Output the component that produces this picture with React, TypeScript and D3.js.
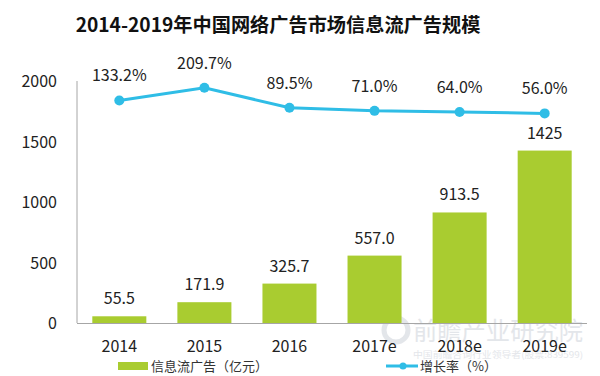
import React from "react";
import * as d3 from "d3";

const categories = ["2014", "2015", "2016", "2017e", "2018e", "2019e"];
const adValues = [55.5, 171.9, 325.7, 557.0, 913.5, 1425];
const adLabels = ["55.5", "171.9", "325.7", "557.0", "913.5", "1425"];
const growthValues = [133.2, 209.7, 89.5, 71.0, 64.0, 56.0];
const yTicks = [0, 500, 1000, 1500, 2000];
const title = "2014-2019年中国网络广告市场信息流广告规模";
const barLegend = "信息流广告（亿元）";
const lineLegend = "增长率（%）";

const W = 600;
const H = 376;
const left = 77;
const right = 587;
const top = 81;
const bottom = 323;
const GREEN = "#a9cc30";
const BLUE = "#2fbde6";
const FONT = "'Noto Sans CJK SC', 'Noto Sans', sans-serif";

export default function App() {
  const x = d3.scaleBand<string>().domain(categories).range([left, right]).paddingInner(0.365).paddingOuter(0.18);
  const y = d3.scaleLinear().domain([0, 2000]).range([bottom, top]);
  const y2 = d3.scaleLinear().domain([-1200, 250]).range([bottom, top]);
  const cx = (c: string) => (x(c) as number) + x.bandwidth() / 2;
  const line = d3
    .line<number>()
    .x((_, i) => cx(categories[i]))
    .y((d) => y2(d));

  return (
    <svg width={W} height={H} style={{ position: "absolute", left: 0, top: 0, background: "#fff" }} fontFamily={FONT}>
      <rect width={W} height={H} fill="#fff" />
      <text x={278} y={32} textAnchor="middle" fontSize={19.2} fontWeight="bold" fill="#111">
        {title}
      </text>

      {/* watermark */}
      <g opacity={0.5}>
        <circle cx={396} cy={330} r={12} fill="none" stroke="#c9ced6" strokeWidth={5} />
        <text x={413} y={340} fontSize={25} fill="#c9ced6" textLength={170} lengthAdjust="spacingAndGlyphs">
          前瞻产业研究院
        </text>
        <text x={413} y={358} fontSize={9} fill="#c9ced6" textLength={170} lengthAdjust="spacingAndGlyphs">
          中国前瞻咨询行业领导者(股票:839599)
        </text>
      </g>

      {/* y axis */}
      <line x1={left} x2={left} y1={top} y2={bottom} stroke="#a6a6a6" strokeWidth={1} />
      {yTicks.map((t) => (
        <text key={t} x={57} y={y(t) + 6} textAnchor="end" fontSize={16} fill="#222">
          {t}
        </text>
      ))}

      {/* bars */}
      {adValues.map((v, i) => (
        <g key={categories[i]}>
          <rect x={x(categories[i])} y={y(v)} width={x.bandwidth()} height={bottom - y(v)} fill={GREEN} />
          <text x={cx(categories[i])} y={y(v) - 12} textAnchor="middle" fontSize={16} fill="#222">
            {adLabels[i]}
          </text>
        </g>
      ))}
      <line x1={left} x2={right} y1={bottom + 0.5} y2={bottom + 0.5} stroke="#a6a6a6" strokeWidth={1} />

      {/* x labels */}
      {categories.map((c) => (
        <text key={c} x={cx(c)} y={352} textAnchor="middle" fontSize={16} fill="#222">
          {c}
        </text>
      ))}

      {/* growth line */}
      <path d={line(growthValues) || ""} fill="none" stroke={BLUE} strokeWidth={3} />
      {growthValues.map((v, i) => (
        <g key={"g" + i}>
          <circle cx={cx(categories[i])} cy={y2(v)} r={5} fill={BLUE} />
          <text x={cx(categories[i])} y={y2(v) - 19} textAnchor="middle" fontSize={16} fill="#222">
            {v.toFixed(1) + "%"}
          </text>
        </g>
      ))}

      {/* legend */}
      <rect x={118} y={362} width={30} height={8} fill={GREEN} />
      <text x={151} y={371} fontSize={13} fill="#333">
        {barLegend}
      </text>
      <line x1={386} x2={418} y1={366} y2={366} stroke={BLUE} strokeWidth={3} />
      <circle cx={403} cy={366} r={3.5} fill={BLUE} />
      <text x={420} y={371} fontSize={13} fill="#333">
        {lineLegend}
      </text>
    </svg>
  );
}
